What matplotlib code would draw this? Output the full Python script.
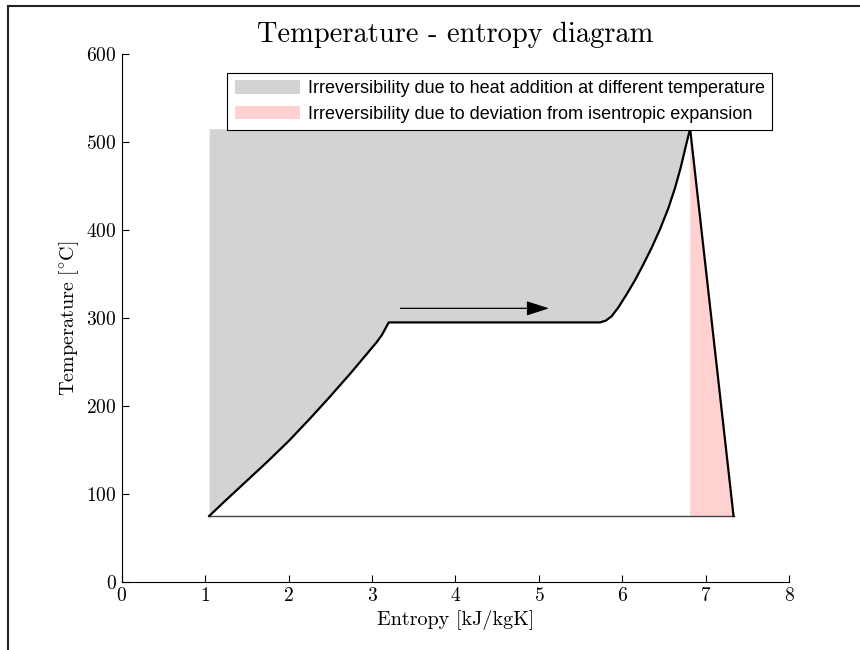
import numpy as np
import matplotlib
matplotlib.use('Agg')
import matplotlib.pyplot as plt
from matplotlib.lines import Line2D

plt.rcParams['font.family'] = 'serif'
plt.rcParams['font.serif'] = ['cmr10', 'DejaVu Serif']
plt.rcParams['mathtext.fontset'] = 'cm'
plt.rcParams['axes.formatter.use_mathtext'] = True

# heating curve (entropy kJ/kgK, temperature C)
s_heat = [1.05, 1.25, 1.5, 1.75, 2.0, 2.25, 2.5, 2.75, 3.06, 3.12, 3.2, 5.73, 5.8, 5.87, 5.95,
          6.05, 6.15, 6.25, 6.35, 6.45, 6.55, 6.63, 6.7, 6.76, 6.81]
T_heat = [75, 93, 115, 137, 160, 185, 211, 238, 273, 281, 295, 295, 297, 302, 312,
          327, 343, 361, 380, 401, 425, 448, 472, 496, 515]

# expansion and condensation
s_exp = [6.81, 7.33]
T_exp = [515, 75]
s_cond = [7.33, 1.05]
T_cond = [75, 75]

T_max = 515
s_isen = 6.81

arrow_s = [3.34, 5.12]
arrow_T = 311

lbl_gray = 'Irreversibility due to heat addition at different temperature'
lbl_pink = 'Irreversibility due to deviation from isentropic expansion'

fig = plt.figure(figsize=(8.6, 6.5), dpi=100)
ax = fig.add_axes([0.1413, 0.1046, 0.7767, 0.8123])

g = ax.fill_between(s_heat, T_heat, T_max, color='#d3d3d3', lw=0, label=lbl_gray)
p = ax.fill([s_isen, s_exp[0], s_exp[1]], [T_exp[1], T_exp[0], T_exp[1]],
            color='#ffd1d1', lw=0, label=lbl_pink)[0]

ax.plot(s_cond, T_cond, color='#444444', lw=1.0)
ax.plot(s_heat, T_heat, color='k', lw=1.6, solid_joinstyle='round')
ax.plot(s_exp, T_exp, color='k', lw=1.6)

ax.annotate('', xy=(arrow_s[1], arrow_T), xytext=(arrow_s[0], arrow_T),
            arrowprops=dict(arrowstyle='-|>,head_length=1.4,head_width=0.45',
                            color='k', lw=0.9, shrinkA=0, shrinkB=0))

ax.set_xlim(0, 8)
ax.set_ylim(0, 600)
ax.set_xticks(range(0, 9))
ax.set_yticks(range(0, 601, 100))
ax.spines['top'].set_visible(False)
ax.spines['right'].set_visible(False)
ax.tick_params(direction='in', length=5, labelsize=14, width=0.8)
ax.set_xlabel('Entropy [kJ/kgK]', fontsize=14.5)
ax.set_ylabel(r'Temperature [$^{\circ}\mathrm{C}$]', fontsize=14.5)
ax.set_title('Temperature - entropy diagram', fontsize=20.5, pad=9)

leg = fig.legend(handles=[g, p], loc='upper right', bbox_to_anchor=(0.8977, 0.8877),
                 prop={'family': 'Liberation Sans', 'size': 13}, fancybox=False,
                 edgecolor='k', framealpha=1, handlelength=3.6, handleheight=0.8,
                 handletextpad=0.45, borderpad=0.4, labelspacing=0.45, borderaxespad=0)
leg.get_frame().set_linewidth(0.8)

# outer frame visible on the left and top edges
fig.add_artist(Line2D([8/860, 8/860], [0, 1 - 6/650], color='#222222', lw=1.5))
fig.add_artist(Line2D([8/860, 1], [1 - 6/650, 1 - 6/650], color='#222222', lw=1.5))

fig.savefig('out.png', dpi=100)
